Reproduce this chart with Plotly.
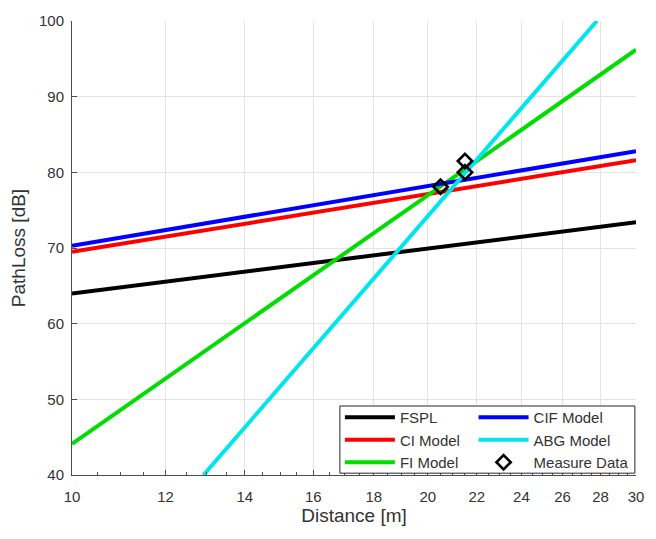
import plotly.graph_objects as go

# ---- data ----
dist_ends = [10, 30]
fspl_pl = [64.0, 73.4]
ci_pl = [69.5, 81.6]
fi_pl = [44.1, 96.2]
cif_pl = [70.3, 82.8]
abg_dist = [12.92, 27.8]
abg_pl = [40.0, 100.0]
meas_dist = [20.5, 21.5, 21.5]
meas_pl = [78.1, 81.5, 80.0]

x_ticks = [10, 12, 14, 16, 18, 20, 22, 24, 26, 28, 30]
y_ticks = [40, 50, 60, 70, 80, 90, 100]
x_minor = [v / 2 for v in range(21, 60) if (v / 2) not in x_ticks]

TXT = "#333333"
FONT = "Liberation Sans, Arial, sans-serif"

fig = go.Figure()

def line(name, x, y, color, legend):
    fig.add_trace(go.Scatter(x=x, y=y, mode="lines", name=name,
                             line=dict(color=color, width=4), legend=legend))

line("FSPL", dist_ends, fspl_pl, "#000000", "legend")
line("CI Model", dist_ends, ci_pl, "#ff0000", "legend")
line("FI Model", dist_ends, fi_pl, "#00dd00", "legend")
line("CIF Model", dist_ends, cif_pl, "#0000ff", "legend2")
line("ABG Model", abg_dist, abg_pl, "#00e5ee", "legend2")
fig.add_trace(go.Scatter(x=meas_dist, y=meas_pl, mode="markers", name="Measure Data",
                         marker=dict(symbol="diamond-open", size=11, color="#000000",
                                     line=dict(width=2.6, color="#000000")),
                         legend="legend2", cliponaxis=False))

LEG_FONT = dict(size=15, color=TXT)
fig.update_layout(
    width=656, height=539,
    margin=dict(l=72, r=14, t=13, b=64),
    paper_bgcolor="white", plot_bgcolor="white",
    font=dict(family=FONT, color=TXT, size=15),
    legend=dict(x=0.475, y=0.163, xanchor="left", yanchor="top",
                bgcolor="rgba(0,0,0,0)", borderwidth=0, itemwidth=50,
                font=LEG_FONT, tracegroupgap=0),
    legend2=dict(x=0.712, y=0.163, xanchor="left", yanchor="top",
                 bgcolor="rgba(0,0,0,0)", borderwidth=0, itemwidth=50,
                 font=LEG_FONT, tracegroupgap=0),
    shapes=[dict(type="rect", xref="paper", yref="paper", x0=0.475, x1=0.998,
                 y0=0.004, y1=0.152, line=dict(color="#262626", width=1),
                 fillcolor="white", layer="above")],
)

fig.update_xaxes(type="log", range=[1, 1.47712125472], tickvals=x_ticks,
                 ticktext=[str(v) for v in x_ticks],
                 showgrid=True, gridcolor="#e3e3e3", gridwidth=1,
                 showline=True, linecolor="#4d4d4d", linewidth=1,
                 ticks="inside", ticklen=5, tickcolor="#4d4d4d",
                 minor=dict(tickvals=x_minor, ticks="inside", ticklen=3,
                            tickcolor="#4d4d4d", showgrid=False),
                 tickfont=dict(size=15, color=TXT), zeroline=False,
                 ticklabelstandoff=8,
                 title=dict(text="Distance [m]", font=dict(size=19, color=TXT), standoff=4))
fig.update_yaxes(range=[40, 100], tickvals=y_ticks,
                 showgrid=True, gridcolor="#e3e3e3", gridwidth=1,
                 showline=True, linecolor="#4d4d4d", linewidth=1,
                 ticks="inside", ticklen=5, tickcolor="#4d4d4d",
                 tickfont=dict(size=15, color=TXT), zeroline=False,
                 ticklabelstandoff=4,
                 title=dict(text="PathLoss [dB]", font=dict(size=19, color=TXT), standoff=8))

fig.write_html("out.html")
